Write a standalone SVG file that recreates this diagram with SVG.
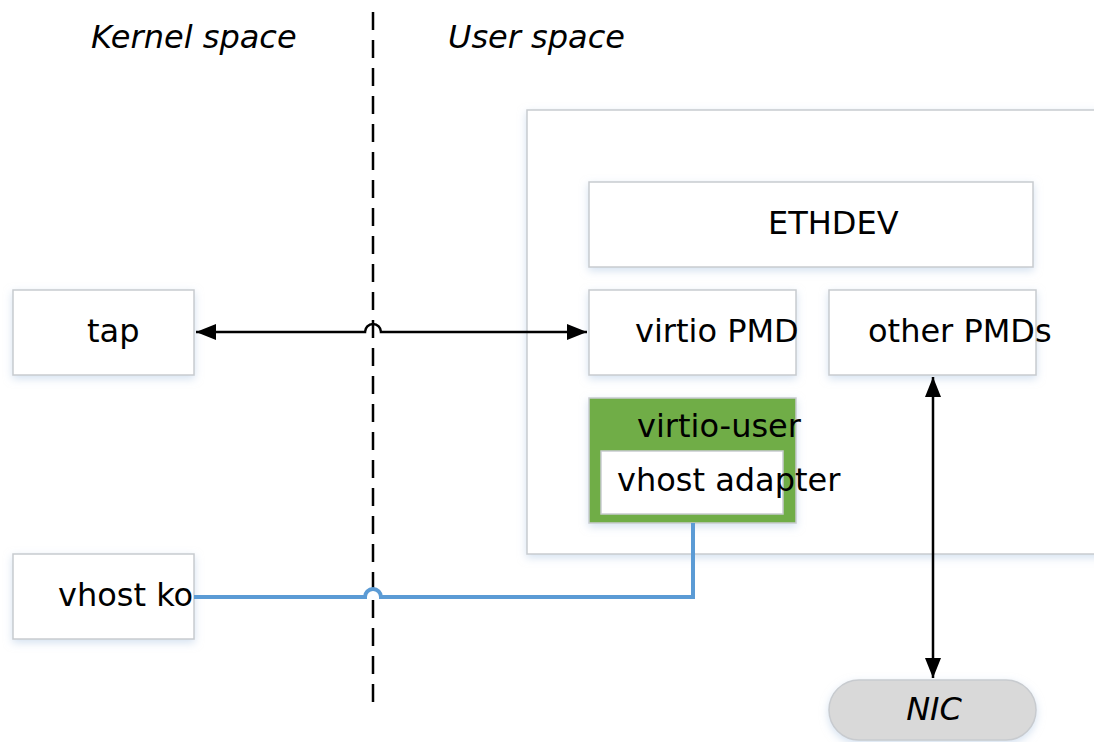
<svg xmlns="http://www.w3.org/2000/svg" width="1094" height="742" viewBox="0 0 1094 742">
<defs>
<style>
.box{fill:#ffffff;stroke:#c8cbcf;stroke-width:1.5;filter:url(#sh)}
.t{font-family:"DejaVu Sans",sans-serif;font-size:32px;fill:#000}
.i{font-style:italic}
.arr{fill:none;stroke:#000;stroke-width:2.5}
.blue{fill:none;stroke:#5b9bd5;stroke-width:4}
</style>
<filter id="sh" x="-20%" y="-20%" width="140%" height="150%">
<feDropShadow dx="0" dy="3" stdDeviation="4" flood-color="#b8cde6" flood-opacity="0.6"/>
</filter>
<marker id="ah2" viewBox="0 0 20 16" refX="20" refY="8" markerWidth="20" markerHeight="16" markerUnits="userSpaceOnUse" orient="auto-start-reverse">
<path d="M0,0 L20,8 L0,16 z" fill="#000"/>
</marker>
</defs>
<rect width="1094" height="742" fill="#fff"/>
<text class="t i" x="91" y="48">Kernel space</text>
<text class="t i" x="448" y="48">User space</text>
<line x1="373" y1="12" x2="373" y2="706" stroke="#000" stroke-width="2.5" stroke-dasharray="18,10"/>
<g id="userspace"><rect class="box" x="527" y="110" width="580" height="444"/></g>
<g id="ethdev"><rect class="box" x="589" y="182" width="444" height="85"/><text class="t" x="768" y="234">ETHDEV</text></g>
<g id="tap"><rect class="box" x="13" y="290" width="181" height="85"/><text class="t" x="87" y="342">tap</text></g>
<g id="virtio-pmd"><rect class="box" x="589" y="290" width="207" height="85"/><text class="t" x="635" y="342">virtio PMD</text></g>
<g id="other-pmds"><rect class="box" x="829" y="290" width="207" height="85"/><text class="t" x="868" y="342">other PMDs</text></g>
<g id="virtio-user"><rect x="589" y="398" width="207" height="125" fill="#70ad47" stroke="#c8cbcf" stroke-width="1.5" filter="url(#sh)"/><text class="t" x="637" y="437">virtio-user</text>
<g id="vhost-adapter"><rect x="601" y="451" width="182" height="63" fill="#fff" stroke="#c8cbcf" stroke-width="1.5"/><text class="t" x="617" y="491">vhost adapter</text></g></g>
<g id="vhost-ko"><rect class="box" x="13" y="554" width="181" height="85"/><text class="t" x="58" y="606">vhost ko</text></g>
<g id="nic"><rect x="829" y="680" width="207" height="60" rx="30" fill="#d9d9d9" stroke="#c8cbcf" stroke-width="1.5" filter="url(#sh)"/><text class="t i" x="934" y="720" text-anchor="middle">NIC</text></g>
<g id="connectors">
<path class="arr" d="M196,332 H365 A8,8 0 0 1 381,332 H587" marker-start="url(#ah2)" marker-end="url(#ah2)"/>
<path class="arr" d="M933,377 V678" marker-start="url(#ah2)" marker-end="url(#ah2)"/>
<path class="blue" d="M194,597 H365 A8,8 0 0 1 381,597 H693 V523"/>
</g>
</svg>
